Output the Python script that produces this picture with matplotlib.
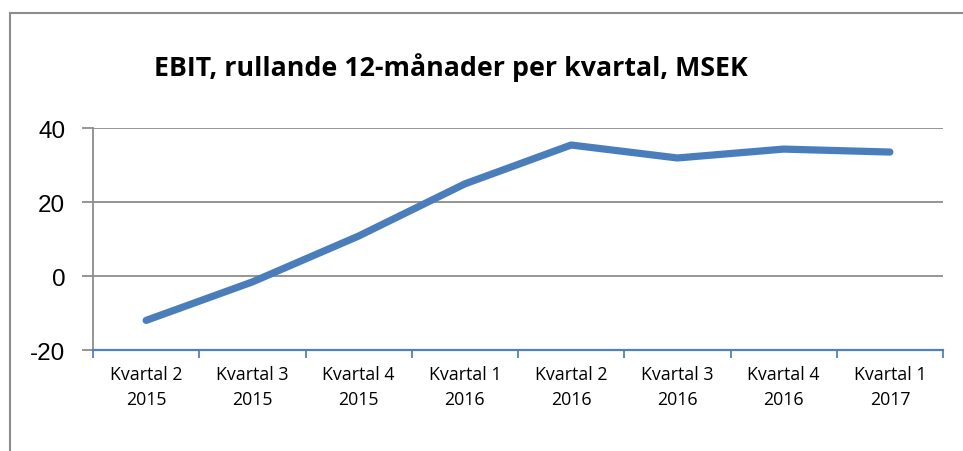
import matplotlib
matplotlib.use("Agg")
import matplotlib.pyplot as plt
from matplotlib.patches import Rectangle
import numpy as np

categories = ["Kvartal 2\n2015", "Kvartal 3\n2015", "Kvartal 4\n2015", "Kvartal 1\n2016",
              "Kvartal 2\n2016", "Kvartal 3\n2016", "Kvartal 4\n2016", "Kvartal 1\n2017"]
ebit = [-12.0, -1.6, 10.8, 24.9, 35.4, 31.9, 34.3, 33.5]
yticks = [-20, 0, 20, 40]

W, H = 963, 452
fig = plt.figure(figsize=(W / 100, H / 100), dpi=100, facecolor="white")
ax = fig.add_axes([93 / W, 1 - 351 / H, 850 / W, 222 / H])

x = np.arange(len(categories))
ax.plot(x, ebit, color="#4a7ebb", lw=5.2, solid_capstyle="round",
        solid_joinstyle="round", zorder=3)

ax.set_xlim(-0.5, len(categories) - 0.5)
ax.set_ylim(-20, 40)
ax.set_yticks(yticks)
ax.set_yticklabels([str(v) for v in yticks], fontfamily="Liberation Sans", fontsize=17.5)
ax.grid(axis="y", color="#8c8c8c", lw=1.3)
ax.tick_params(axis="y", length=8, width=1.3, color="#8c8c8c", pad=12)

ax.set_xticks(x)
ax.set_xticklabels(categories, fontfamily="Open Sans", fontsize=12.8, linespacing=1.45)
ax.tick_params(axis="x", which="major", length=0, pad=11)
ax.set_xticks(np.arange(-0.5, len(categories)), minor=True)
ax.tick_params(axis="x", which="minor", length=6, width=1.3, color="#4f81bd")

for s in ("top", "right"):
    ax.spines[s].set_visible(False)
ax.spines["left"].set_color("#8c8c8c")
ax.spines["left"].set_linewidth(1.3)
ax.spines["bottom"].set_color("#4f81bd")
ax.spines["bottom"].set_linewidth(1.6)

fig.text(451 / W, 1 - 68 / H, "EBIT, rullande 12-månader per kvartal, MSEK",
         ha="center", va="center", fontsize=19.3, fontweight="bold", fontfamily="Open Sans")

# chart frame (only left and top edges fall inside the image)
fig.patches.append(Rectangle((10 / W, -0.1), 1.2, 1 - 14 / H + 0.1, transform=fig.transFigure,
                             fill=False, edgecolor="#8c8c8c", lw=1.5))

fig.savefig("out.png", dpi=100)
